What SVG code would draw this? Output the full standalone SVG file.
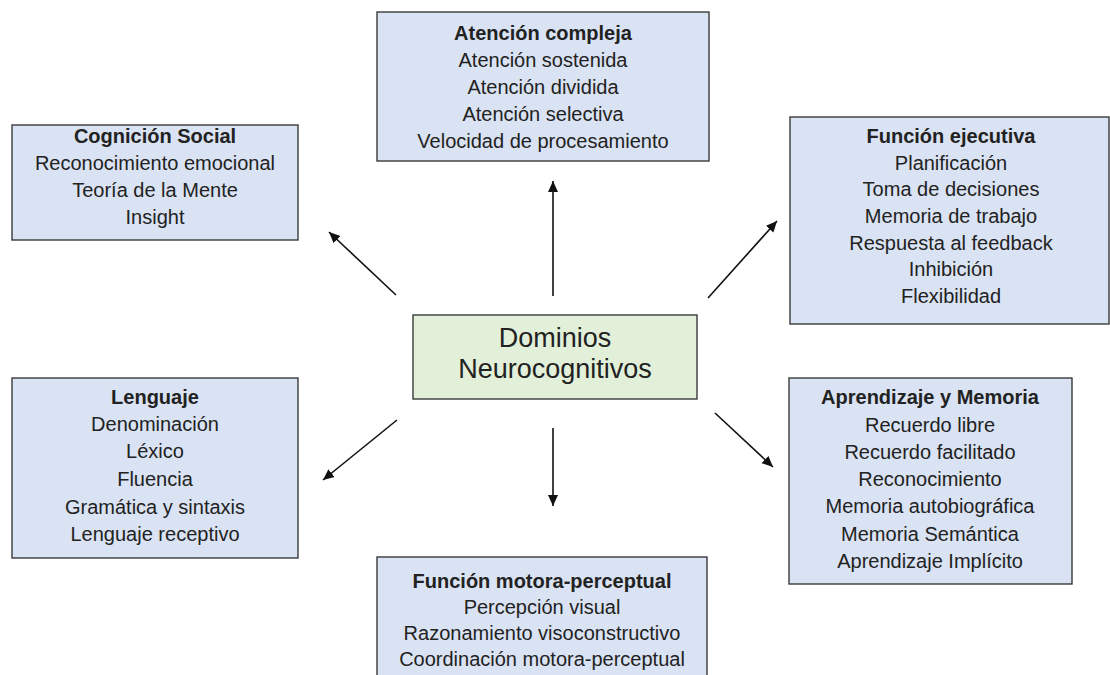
<svg xmlns="http://www.w3.org/2000/svg" width="1110" height="675" viewBox="0 0 1110 675">
  <style>
    .box { fill: #DAE3F3; stroke: #3a3a3a; stroke-width: 1.4; }
    .core { fill: #E2F0D9; stroke: #3a3a3a; stroke-width: 1.4; }
    text { font-family: "Liberation Sans", Arial, sans-serif; font-size: 20px; fill: #222; text-anchor: middle; }
    .title { font-weight: bold; }
    .big { font-size: 27px; }
    .link { stroke: #111; stroke-width: 1.6; fill: none; marker-end: url(#head); }
  </style>
  <defs>
    <marker id="head" markerUnits="userSpaceOnUse" markerWidth="12" markerHeight="12" viewBox="0 0 12 12" refX="11" refY="6" orient="auto">
      <path d="M0,1 L11,6 L0,11 Z" fill="#111"/>
    </marker>
  </defs>

  <rect width="1110" height="675" fill="#fff"/>

  <!-- connectors from the central node -->
  <g id="connectors">
    <line class="link" x1="553" y1="296" x2="553" y2="181"/>
    <line class="link" x1="396" y1="295" x2="329" y2="232"/>
    <line class="link" x1="708" y1="298" x2="777" y2="221"/>
    <line class="link" x1="397" y1="420" x2="323" y2="480"/>
    <line class="link" x1="553" y1="428" x2="553" y2="506"/>
    <line class="link" x1="715" y1="413" x2="773" y2="467"/>
  </g>

  <g id="dominios">
    <rect class="core" x="413" y="315" width="284" height="84"/>
    <text class="big" x="555" y="347">Dominios</text>
    <text class="big" x="555" y="378">Neurocognitivos</text>
  </g>

  <g id="atencion">
    <rect class="box" x="377" y="12" width="332" height="149"/>
    <text class="title" x="543" y="40">Atención compleja</text>
    <text x="543" y="67">Atención sostenida</text>
    <text x="543" y="94">Atención dividida</text>
    <text x="543" y="121">Atención selectiva</text>
    <text x="543" y="148">Velocidad de procesamiento</text>
  </g>

  <g id="cognicion-social">
    <rect class="box" x="12" y="125" width="286" height="115"/>
    <text class="title" x="155" y="143">Cognición Social</text>
    <text x="155" y="170">Reconocimiento emocional</text>
    <text x="155" y="197">Teoría de la Mente</text>
    <text x="155" y="224">Insight</text>
  </g>

  <g id="funcion-ejecutiva">
    <rect class="box" x="790" y="117" width="319" height="207"/>
    <text class="title" x="951" y="143">Función ejecutiva</text>
    <text x="951" y="170">Planificación</text>
    <text x="951" y="196">Toma de decisiones</text>
    <text x="951" y="223">Memoria de trabajo</text>
    <text x="951" y="250">Respuesta al feedback</text>
    <text x="951" y="276">Inhibición</text>
    <text x="951" y="303">Flexibilidad</text>
  </g>

  <g id="lenguaje">
    <rect class="box" x="12" y="378" width="286" height="180"/>
    <text class="title" x="155" y="404">Lenguaje</text>
    <text x="155" y="431">Denominación</text>
    <text x="155" y="458">Léxico</text>
    <text x="155" y="486">Fluencia</text>
    <text x="155" y="514">Gramática y sintaxis</text>
    <text x="155" y="541">Lenguaje receptivo</text>
  </g>

  <g id="aprendizaje-memoria">
    <rect class="box" x="789" y="378" width="283" height="206"/>
    <text class="title" x="930" y="404">Aprendizaje y Memoria</text>
    <text x="930" y="432">Recuerdo libre</text>
    <text x="930" y="459">Recuerdo facilitado</text>
    <text x="930" y="486">Reconocimiento</text>
    <text x="930" y="513">Memoria autobiográfica</text>
    <text x="930" y="541">Memoria Semántica</text>
    <text x="930" y="568">Aprendizaje Implícito</text>
  </g>

  <g id="motora-perceptual">
    <rect class="box" x="377" y="557" width="330" height="130"/>
    <text class="title" x="542" y="588">Función motora-perceptual</text>
    <text x="542" y="614">Percepción visual</text>
    <text x="542" y="640">Razonamiento visoconstructivo</text>
    <text x="542" y="666">Coordinación motora-perceptual</text>
  </g>
</svg>
